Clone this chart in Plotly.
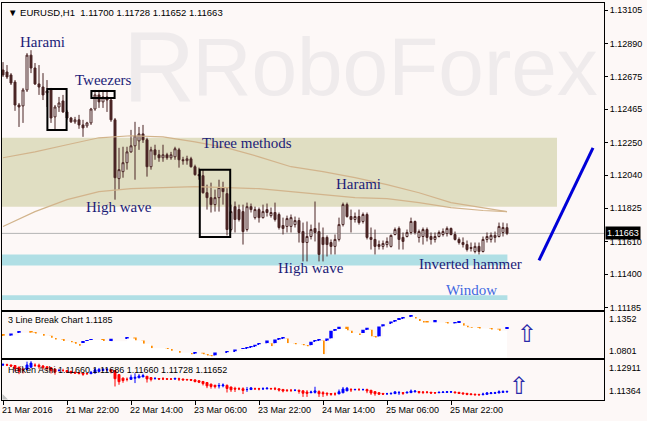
import plotly.graph_objects as go

# EURUSD H1 candles (bar index 0 = 21 Mar 2016 06:00)
o = [1.12719, 1.12706, 1.12687, 1.12641, 1.12493, 1.12487, 1.12590, 1.12815, 1.12732, 1.12629,
     1.12609, 1.12571, 1.12590, 1.12416, 1.12480, 1.12519, 1.12448, 1.12409, 1.12384, 1.12397,
     1.12364, 1.12358, 1.12377, 1.12467, 1.12558, 1.12513, 1.12545, 1.12525, 1.12397, 1.12017,
     1.12062, 1.12120, 1.12190, 1.12229, 1.12261, 1.12306, 1.12268, 1.12094, 1.12203, 1.12171,
     1.12152, 1.12171, 1.12152, 1.12158, 1.12203, 1.12139, 1.12133, 1.12145, 1.12094, 1.12043,
     1.12036, 1.11926, 1.11894, 1.11849, 1.11894, 1.11959, 1.11920, 1.11688, 1.11836, 1.11817,
     1.11804, 1.11688, 1.11836, 1.11765, 1.11817, 1.11765, 1.11817, 1.11778, 1.11798, 1.11785,
     1.11714, 1.11708, 1.11708, 1.11720, 1.11746, 1.11675, 1.11604, 1.11643, 1.11695, 1.11675,
     1.11637, 1.11637, 1.11604, 1.11579, 1.11624, 1.11720, 1.11849, 1.11772, 1.11753, 1.11772,
     1.11740, 1.11785, 1.11637, 1.11624, 1.11591, 1.11579, 1.11591, 1.11579, 1.11656, 1.11695,
     1.11637, 1.11643, 1.11669, 1.11740, 1.11637, 1.11643, 1.11688, 1.11643, 1.11624, 1.11643,
     1.11656, 1.11662, 1.11695, 1.11656, 1.11624, 1.11604, 1.11591, 1.11572, 1.11546, 1.11579,
     1.11546, 1.11624, 1.11624, 1.11637, 1.11643, 1.11669, 1.11700]
h = [1.12770, 1.12751, 1.12699, 1.12654, 1.12506, 1.12603, 1.12828, 1.12847, 1.12764, 1.12751,
     1.12699, 1.12654, 1.12603, 1.12493, 1.12545, 1.12558, 1.12461, 1.12416, 1.12416, 1.12429,
     1.12397, 1.12384, 1.12474, 1.12590, 1.12590, 1.12590, 1.12590, 1.12538, 1.12409, 1.12216,
     1.12223, 1.12223, 1.12332, 1.12384, 1.12351, 1.12364, 1.12281, 1.12223, 1.12236, 1.12203,
     1.12236, 1.12184, 1.12190, 1.12223, 1.12216, 1.12158, 1.12165, 1.12158, 1.12107, 1.12088,
     1.12075, 1.11978, 1.11991, 1.11946, 1.12010, 1.11997, 1.11959, 1.11849, 1.11869, 1.11849,
     1.11849, 1.11862, 1.11856, 1.11836, 1.11830, 1.11849, 1.11856, 1.11830, 1.11862, 1.11798,
     1.11765, 1.11778, 1.11785, 1.11772, 1.11765, 1.11733, 1.11740, 1.11720, 1.11869, 1.11733,
     1.11701, 1.11650, 1.11624, 1.11656, 1.11765, 1.11862, 1.11862, 1.11817, 1.11798, 1.11817,
     1.11798, 1.11798, 1.11701, 1.11688, 1.11617, 1.11617, 1.11637, 1.11656, 1.11701, 1.11708,
     1.11669, 1.11688, 1.11765, 1.11746, 1.11688, 1.11701, 1.11701, 1.11669, 1.11669, 1.11682,
     1.11695, 1.11708, 1.11701, 1.11675, 1.11637, 1.11637, 1.11617, 1.11604, 1.11604, 1.11604,
     1.11643, 1.11669, 1.11669, 1.11675, 1.11733, 1.11733, 1.11728]
l = [1.12674, 1.12661, 1.12622, 1.12455, 1.12351, 1.12377, 1.12577, 1.12699, 1.12622, 1.12558,
     1.12525, 1.12480, 1.12377, 1.12332, 1.12448, 1.12442, 1.12397, 1.12377, 1.12371, 1.12339,
     1.12287, 1.12345, 1.12364, 1.12455, 1.12474, 1.12474, 1.12448, 1.12384, 1.11881, 1.11946,
     1.12023, 1.12075, 1.12184, 1.12010, 1.12203, 1.12248, 1.12030, 1.12075, 1.12139, 1.12126,
     1.12126, 1.12139, 1.12139, 1.12139, 1.12088, 1.12107, 1.12107, 1.12088, 1.12036, 1.12010,
     1.11920, 1.11817, 1.11798, 1.11804, 1.11804, 1.11849, 1.11650, 1.11675, 1.11669, 1.11740,
     1.11591, 1.11675, 1.11798, 1.11753, 1.11733, 1.11759, 1.11772, 1.11765, 1.11740, 1.11688,
     1.11656, 1.11669, 1.11669, 1.11701, 1.11604, 1.11482, 1.11482, 1.11624, 1.11611, 1.11482,
     1.11482, 1.11514, 1.11527, 1.11527, 1.11611, 1.11708, 1.11765, 1.11669, 1.11733, 1.11720,
     1.11727, 1.11624, 1.11559, 1.11527, 1.11559, 1.11559, 1.11572, 1.11572, 1.11650, 1.11559,
     1.11559, 1.11637, 1.11656, 1.11656, 1.11604, 1.11591, 1.11611, 1.11591, 1.11604, 1.11637,
     1.11643, 1.11643, 1.11650, 1.11617, 1.11591, 1.11572, 1.11546, 1.11546, 1.11534, 1.11527,
     1.11540, 1.11604, 1.11604, 1.11604, 1.11637, 1.11643, 1.11652]
c = [1.12687, 1.12674, 1.12635, 1.12493, 1.12480, 1.12590, 1.12815, 1.12732, 1.12629, 1.12609,
     1.12558, 1.12583, 1.12409, 1.12480, 1.12506, 1.12448, 1.12409, 1.12384, 1.12397, 1.12364,
     1.12345, 1.12377, 1.12467, 1.12558, 1.12513, 1.12545, 1.12525, 1.12397, 1.12023, 1.12075,
     1.12120, 1.12190, 1.12229, 1.12294, 1.12306, 1.12268, 1.12094, 1.12203, 1.12171, 1.12152,
     1.12171, 1.12152, 1.12171, 1.12210, 1.12139, 1.12133, 1.12145, 1.12094, 1.12043, 1.12036,
     1.11926, 1.11894, 1.11849, 1.11894, 1.11959, 1.11933, 1.11688, 1.11804, 1.11753, 1.11753,
     1.11675, 1.11836, 1.11817, 1.11817, 1.11765, 1.11804, 1.11798, 1.11798, 1.11753, 1.11701,
     1.11695, 1.11759, 1.11765, 1.11746, 1.11669, 1.11604, 1.11643, 1.11688, 1.11669, 1.11527,
     1.11591, 1.11591, 1.11579, 1.11624, 1.11720, 1.11849, 1.11772, 1.11753, 1.11772, 1.11733,
     1.11785, 1.11637, 1.11624, 1.11579, 1.11579, 1.11598, 1.11611, 1.11650, 1.11688, 1.11624,
     1.11611, 1.11669, 1.11740, 1.11669, 1.11675, 1.11688, 1.11637, 1.11624, 1.11643, 1.11669,
     1.11675, 1.11695, 1.11656, 1.11624, 1.11604, 1.11591, 1.11559, 1.11566, 1.11579, 1.11546,
     1.11624, 1.11643, 1.11650, 1.11650, 1.11708, 1.11701, 1.11663]
bars = list(range(len(c)))

# two moving averages, read every 8 bars
ma_x = [0, 8, 16, 24, 32, 40, 48, 56, 64, 72, 80, 88, 96, 104, 112, 120, 126]
ma_slow = [1.12152, 1.12190, 1.12236, 1.12281, 1.12294, 1.12287, 1.12255, 1.12216, 1.12158,
           1.12094, 1.12062, 1.12023, 1.11978, 1.11926, 1.11862, 1.11830, 1.11804]
ma_fast = [1.11708, 1.11804, 1.11881, 1.11933, 1.11952, 1.11959, 1.11965, 1.11959, 1.11952,
           1.11933, 1.11914, 1.11894, 1.11888, 1.11862, 1.11830, 1.11811, 1.11804]

# 3 Line Break bricks: bar index, bottom, top, up?
lb_x = [0, 2, 4, 7, 8, 10, 12, 13, 15, 17, 18, 19, 20, 21, 22, 25, 27, 31, 33, 35, 37, 41, 42, 44,
        47, 48, 50, 51, 52, 53, 56, 58, 60, 61, 62, 63, 64, 66, 67, 68, 69, 70, 71, 73, 75, 76,
        77, 78, 79, 80, 81, 82, 83, 84, 86, 87, 89, 90, 91, 92, 93, 94, 95, 97, 98, 99, 100,
        102, 103, 104, 105, 106, 108, 111, 113, 114, 115, 116, 117, 119, 122, 124, 126]
lb_lo = [1.10645, 1.10681, 1.11005, 1.11041, 1.10921, 1.10645, 1.10406, 1.10202, 1.10010, 1.09843,
         1.09687, 1.09447, 1.09771, 1.10010, 1.10130, 1.10010, 1.09963, 1.10322, 1.10082, 1.09687,
         1.09124, 1.09052, 1.08813, 1.08573, 1.08405, 1.08489, 1.08405, 1.08250, 1.08166, 1.08250,
         1.08645, 1.08765, 1.09052, 1.09124, 1.09244, 1.09364, 1.09603, 1.09723, 1.09364, 1.09723,
         1.10202, 1.10322, 1.09723, 1.09603, 1.09483, 1.09364, 1.09483, 1.09963, 1.10082, 1.08405,
         1.10082, 1.10322, 1.11244, 1.11448, 1.11280, 1.10969, 1.10729, 1.10969, 1.11364, 1.10561,
         1.10442, 1.10561, 1.11759, 1.12167, 1.12358, 1.12562, 1.12718, 1.12957, 1.12718, 1.12442,
         1.12238, 1.12238, 1.12238, 1.12119, 1.12167, 1.12202, 1.11843, 1.11687, 1.11604, 1.11520,
         1.11400, 1.11244, 1.11520]
lb_hi = [1.10765, 1.10921, 1.11124, 1.11124, 1.11005, 1.10765, 1.10645, 1.10322, 1.10130, 1.09927,
         1.09843, 1.09651, 1.09963, 1.10082, 1.10202, 1.10166, 1.10286, 1.10406, 1.10442, 1.10082,
         1.09447, 1.09124, 1.09004, 1.08729, 1.08489, 1.08573, 1.08573, 1.08369, 1.08250, 1.08609,
         1.08729, 1.08968, 1.09124, 1.09244, 1.09364, 1.09567, 1.09723, 1.10082, 1.09723, 1.10202,
         1.10322, 1.10442, 1.10322, 1.09723, 1.09567, 1.09483, 1.09927, 1.10082, 1.10202, 1.10082,
         1.10322, 1.11244, 1.11448, 1.11723, 1.11723, 1.11244, 1.10921, 1.11364, 1.11604, 1.11364,
         1.10561, 1.11759, 1.12047, 1.12358, 1.12526, 1.12718, 1.12921, 1.13041, 1.12921, 1.12646,
         1.12406, 1.12322, 1.12562, 1.12238, 1.12322, 1.12322, 1.12167, 1.11843, 1.11687, 1.11604,
         1.11484, 1.11484, 1.11604]
lb_up = [0, 1, 1, 0, 0, 0, 0, 0, 0, 0, 0, 0, 1, 1, 1, 0, 1, 1, 0, 0, 0, 0, 0, 0,
         0, 1, 0, 0, 0, 1, 1, 1, 1, 1, 1, 1, 1, 1, 0, 1, 1, 1, 0, 0, 0, 0,
         1, 1, 1, 0, 1, 1, 1, 1, 0, 0, 0, 1, 1, 0, 0, 1, 1, 1, 1, 1, 1,
         1, 0, 0, 0, 0, 1, 0, 1, 1, 0, 0, 0, 0, 0, 0, 1]

tick_bars = [0, 16, 32, 48, 64, 80, 96, 112]
tick_text = ['21 Mar 2016', '21 Mar 22:00', '22 Mar 14:00', '23 Mar 06:00',
             '23 Mar 22:00', '24 Mar 14:00', '25 Mar 06:00', '25 Mar 22:00']
price_ticks = [1.13105, 1.12890, 1.12675, 1.12465, 1.12250, 1.12040,
               1.11825, 1.11610, 1.11400, 1.11185]

# Heiken Ashi from the candles
ha_c = [(o[i] + h[i] + l[i] + c[i]) / 4 for i in bars]
ha_o = [(o[0] + c[0]) / 2]
for i in bars[1:]:
    ha_o.append((ha_o[-1] + ha_c[i - 1]) / 2)
ha_h = [max(h[i], ha_o[i], ha_c[i]) for i in bars]
ha_l = [min(l[i], ha_o[i], ha_c[i]) for i in bars]

BG = '#fdf8f7'
DARK = '#4a2424'
NAVY = '#1c1c78'
WM = '#efebec'


def px_x(px):
    return (px - 2) / 602.0


def px_y(py):
    return (400 - py) / 397.0


fig = go.Figure()

# watermark, drawn first so it stays behind the candles
fig.add_trace(go.Scatter(x=[39, 98], y=[1.12672, 1.12690], mode='text', text=['R', 'RoboForex'],
                         textfont=dict(family='Liberation Sans', size=[100, 82], color=WM),
                         hoverinfo='skip', showlegend=False))
fig.add_trace(go.Scatter(x=ma_x, y=ma_slow, mode='lines', line=dict(color='#d2b48c', width=1.2),
                         showlegend=False))
fig.add_trace(go.Scatter(x=ma_x, y=ma_fast, mode='lines', line=dict(color='#d2b48c', width=1.2),
                         showlegend=False))
fig.add_trace(go.Candlestick(x=bars, open=o, high=h, low=l, close=c,
                             increasing=dict(line=dict(color=DARK, width=1), fillcolor='white'),
                             decreasing=dict(line=dict(color=DARK, width=1), fillcolor=DARK),
                             whiskerwidth=0, showlegend=False))

fig.add_trace(go.Scatter(x=lb_x, y=lb_lo, mode='lines', line=dict(width=0, shape='hv'),
                         fill='tozeroy', fillcolor='white', xaxis='x2', yaxis='y2',
                         hoverinfo='skip', showlegend=False))
fig.add_trace(go.Bar(x=lb_x, base=lb_lo, y=[hi - lo for hi, lo in zip(lb_hi, lb_lo)],
                     marker=dict(color=['#0000ff' if u else '#ff8c00' for u in lb_up], line_width=0),
                     width=0.85, xaxis='x2', yaxis='y2', showlegend=False))

fig.add_trace(go.Candlestick(x=bars, open=ha_o, high=ha_h, low=ha_l, close=ha_c,
                             increasing=dict(line=dict(color='#0000ff', width=1), fillcolor='#0000ff'),
                             decreasing=dict(line=dict(color='#ff0000', width=1), fillcolor='#ff0000'),
                             whiskerwidth=0, xaxis='x3', yaxis='y3', showlegend=False))

axis_common = dict(showline=True, mirror=True, linecolor='black', linewidth=1,
                   showgrid=False, zeroline=False, fixedrange=True)
xr = [-0.25, 150.25]

shapes = [
    dict(type='rect', xref='x', yref='y', x0=-0.25, x1=138.5, y0=1.11836, y1=1.12281,
         fillcolor='#e0dec2', line_width=0, layer='below'),
    dict(type='rect', xref='x', yref='y', x0=-0.25, x1=126.1, y0=1.11456, y1=1.11527,
         fillcolor='#b0dfe5', line_width=0, layer='below'),
    dict(type='rect', xref='x', yref='y', x0=-0.25, x1=126.1, y0=1.11233, y1=1.11263,
         fillcolor='#b0dfe5', line_width=0, layer='below'),
    dict(type='line', xref='x', yref='y', x0=-0.25, x1=150.25, y0=1.11663, y1=1.11663,
         line=dict(color='#b4b4b4', width=1), layer='below'),
    dict(type='rect', xref='x', yref='y', x0=11.1, x1=15.9, y0=1.12332, y1=1.12597,
         line=dict(color='black', width=2)),
    dict(type='rect', xref='x', yref='y', x0=22.1, x1=27.9, y0=1.12538, y1=1.12584,
         line=dict(color='black', width=2)),
    dict(type='rect', xref='x', yref='y', x0=49.2, x1=56.8, y0=1.11640, y1=1.12075,
         line=dict(color='black', width=2)),
    dict(type='line', xref='x', yref='y', x0=134, x1=147.5, y0=1.11489, y1=1.12216,
         line=dict(color='#0000d8', width=3)),
    # little scroll marker in the bottom-left corner
    dict(type='path', xref='paper', yref='paper',
         path='M %f,%f L %f,%f L %f,%f Z' % (px_x(2.5), px_y(399.5), px_x(8), px_y(399.5),
                                              px_x(2.5), px_y(394)),
         fillcolor='#c0c0c0', line_width=0),
]

ann = []
serif = 'Liberation Serif'
for txt, xi, yp, col in [('Harami', 9.75, 1.12899, NAVY), ('Tweezers', 25, 1.12654, NAVY),
                         ('Three methods', 61, 1.12248, NAVY), ('High wave', 29, 1.11836, NAVY),
                         ('Harami', 88.75, 1.11985, NAVY), ('High wave', 77, 1.11437, NAVY),
                         ('Inverted hammer', 116.75, 1.11463, NAVY), ('Window', 117, 1.11295, '#4169e1')]:
    ann.append(dict(x=xi, y=yp, xref='x', yref='y', text=txt, showarrow=False,
                    xanchor='center', yanchor='middle',
                    font=dict(family=serif, size=15, color=col)))

small = dict(family='Liberation Sans', size=9, color='black')


def label(txt, px, py, font=small, **kw):
    d = dict(x=px_x(px), y=px_y(py), xref='paper', yref='paper', xanchor='left',
             yanchor='middle', text=txt, showarrow=False, font=font)
    d.update(kw)
    ann.append(d)


label('\u25bc EURUSD,H1  1.11700 1.11728 1.11652 1.11663', 6, 12,
      font=dict(family='Liberation Sans', size=9.5, color='black'))
label('3 Line Break Chart 1.1185', 6, 320)
label('Heiken Ashi 1.11660 1.11686 1.11660 1.11728 1.11652', 6, 370)
for txt, py in [('1.1352', 319), ('1.0801', 351), ('1.12911', 368), ('1.11364', 391)]:
    label(txt, 607, py)
for tb, tt in zip(tick_bars, tick_text):
    ann.append(dict(x=tb, y=px_y(403), xref='x3', yref='paper', xanchor='left', yanchor='top',
                    xshift=-3, text=tt, showarrow=False, font=small))
ann.append(dict(x=px_x(605), y=1.11663, xref='paper', yref='y', xanchor='left', yanchor='middle',
                text='1.11663', showarrow=False, bgcolor='black', borderpad=1,
                font=dict(family='Liberation Sans', size=9, color='white')))
for ax_x, py in [(527, 334), (519, 386)]:
    label('\u21e7', ax_x, py, font=dict(family='DejaVu Sans', size=24, color='#2a2aa8'),
          xanchor='center')

fig.update_layout(
    width=647, height=421,
    margin=dict(l=2, r=43, t=3, b=21),
    paper_bgcolor=BG, plot_bgcolor=BG,
    showlegend=False, bargap=0.15, boxgap=0.3,
    xaxis=dict(axis_common, domain=[0, 1], range=xr, anchor='y', showticklabels=False,
               rangeslider=dict(visible=False)),
    xaxis2=dict(axis_common, domain=[0, 1], range=xr, anchor='y2', matches='x', showticklabels=False),
    xaxis3=dict(axis_common, domain=[0, 1], range=xr, anchor='y3', matches='x', showticklabels=False,
                ticks='outside', ticklen=4, tickcolor='black', tickvals=tick_bars,
                rangeslider=dict(visible=False)),
    yaxis=dict(axis_common, domain=[px_y(310), 1], range=[1.11168, 1.13152], side='right',
               tickvals=price_ticks, ticktext=['%.5f' % v for v in price_ticks],
               ticks='outside', ticklen=3, tickcolor='black', tickfont=small, automargin=False),
    yaxis2=dict(axis_common, domain=[px_y(357.5), px_y(312)], range=[1.0801, 1.1352], side='right',
                showticklabels=False, automargin=False),
    yaxis3=dict(axis_common, domain=[0, px_y(359.5)], range=[1.11364, 1.12911], side='right',
                showticklabels=False, automargin=False),
    shapes=shapes,
    annotations=ann,
)

fig.write_html("out.html", config={'displayModeBar': False},
               post_script="document.body.style.margin='0';")
